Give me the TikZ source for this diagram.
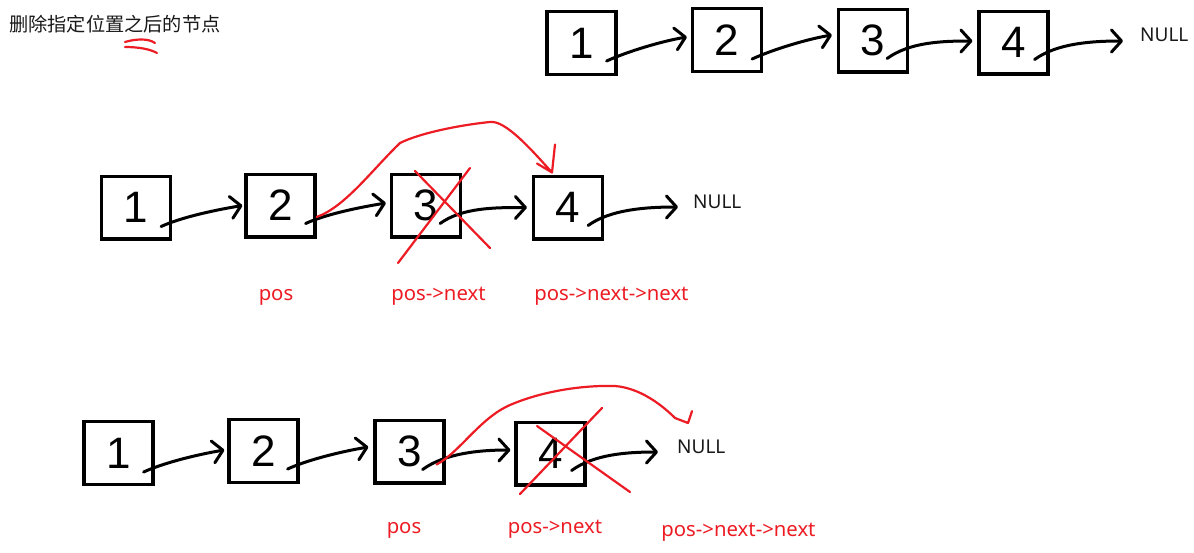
\documentclass[tikz,border=0pt]{standalone}
\usepackage{fontspec}
\newfontfamily\cjk{Noto Sans CJK SC}
\newfontfamily\lab{Noto Sans}
\newfontfamily\dig{Liberation Sans}
\usetikzlibrary{calc,arrows.meta}
\definecolor{mred}{RGB}{237,28,36}
\tikzset{
  nodebox/.style={draw, line width=3.2pt, minimum width=69pt, minimum height=62.8pt,
    inner sep=0pt, font=\dig\fontsize{44}{44}\selectfont},
  link/.style={line width=3pt, line cap=round,
    -{Straight Barb[length=10pt,width=22pt,line cap=round,line join=round]}},
  redline/.style={draw=mred, line width=2.2pt, line cap=round, line join=round},
  nulltxt/.style={inner sep=0pt, anchor=west, font=\lab\fontsize{19}{19}\selectfont, text=black!90},
  redlab/.style={inner sep=0pt, anchor=base, text=mred, font=\lab\fontsize{20.3}{20.3}\selectfont},
  wa/.style={to path={.. controls +(22,-10) and +(-24,4) .. (\tikztotarget)}},
  wb/.style={to path={.. controls +(22,-16) and +(-32,0) .. (\tikztotarget)}},
}
\begin{document}
\begin{tikzpicture}[x=1pt,y=-1pt]
\fill[white] (0,0) rectangle (1194,552);
\useasboundingbox (0,0) rectangle (1194,552);

% title
\node[anchor=base west, inner sep=0pt, font=\cjk\fontsize{19.2}{19.2}\selectfont, text=black!90]
  (title) at (9,31.5) {删除指定位置之后的节点};
\draw[redline] (125,42) .. controls (135,39) and (148,38) .. (155,43);
\draw[redline] (125,47) .. controls (138,47) and (150,49) .. (157,53);

% ---------- row 1 ----------
\node[nodebox] (A1) at (581.5,43) {1};
\node[nodebox] (A2) at (727,40) {2};
\node[nodebox] (A3) at (873,40.5) {3};
\node[nodebox] (A4) at (1013.5,42.5) {4};
\node[nulltxt] (N1) at (1140,35) {NULL};
\draw[link] ($(A1.south east)+(-11,-15)$) to[wa] ($(A2.west)+(-4,-3)$);
\draw[link] ($(A2.south east)+(-11,-14)$) to[wa] ($(A3.west)+(-5,-5.5)$);
\draw[link] ($(A3.south east)+(-22,-15)$) to[wb] ($(A4.west)+(-5,-1.5)$);
\draw[link] ($(A4.south east)+(-15,-16)$) to[wb] ($(N1.west)+(-17,6)$);

% ---------- row 2 ----------
\node[nodebox] (B1) at (136,207.5) {1};
\node[nodebox] (B2) at (280.5,205.5) {2};
\node[nodebox] (B3) at (426,205.5) {3};
\node[nodebox] (B4) at (568,207.5) {4};
\node[nulltxt] (N2) at (693,202) {NULL};
\draw[link] ($(B1.south east)+(-11,-14)$) to[wa] ($(B2.west)+(-2,0)$);
\draw[link] ($(B2.south east)+(-11,-15)$) to[wa] ($(B3.west)+(-4,-2.5)$);
\draw[link] ($(B3.south east)+(-22,-15)$) to[wb] ($(B4.west)+(-5,0)$);
\draw[link] ($(B4.south east)+(-16,-15)$) to[wb] ($(N2.west)+(-15,5)$);
% red bypass
\coordinate (r2s) at ($(B2.east)+(0,11.5)$);
\coordinate (r2t) at ($(B4.north)+(-16,-2)$);
\draw[redline] (r2s) .. controls (345,207) and (372,170) .. (400,143)
  .. controls (420,133) and (460,125) .. (490,122)
  .. controls (505,120) and (530,148) .. (r2t) -- ++(-15,-9)
  (r2t) -- ++(3,-28);
% red cross
\draw[redline] ($(B3.center)+(-28,57.5)$) -- ($(B3.center)+(44,-37.5)$);
\draw[redline] ($(B3.center)+(-11,-34.5)$) -- ($(B3.center)+(64,42.5)$);
% labels
\node[redlab] (L21) at (276,300) {pos};
\node[redlab] (L22) at (438.5,300) {pos->next};
\node[redlab] (L23) at (611.5,300) {pos->next->next};

% ---------- row 3 ----------
\node[nodebox] (C1) at (118.5,453) {1};
\node[nodebox] (C2) at (263.5,451) {2};
\node[nodebox] (C3) at (409.5,451.5) {3};
\node[nodebox] (C4) at (550.5,453.5) {4};
\node[nulltxt] (N3) at (677,446.5) {NULL};
\draw[link] ($(C1.south east)+(-11,-14)$) to[wa] ($(C2.west)+(-3,-1)$);
\draw[link] ($(C2.south east)+(-12,-15)$) to[wa] ($(C3.west)+(-5,-4.5)$);
\draw[link] ($(C3.south east)+(-23,-15)$) to[wb] ($(C4.west)+(-4,-3.5)$);
\draw[link] ($(C4.south east)+(-15,-16)$) to[wb] ($(N3.west)+(-19,5.5)$);
% red bypass
\coordinate (r3s) at ($(C3.south east)+(-9,-20)$);
\coordinate (r3t) at ($(N3.west)+(11,-23.5)$);
\draw[redline] (r3s) .. controls (460,452) and (480,418) .. (510,405)
  .. controls (540,392) and (580,385) .. (615,386)
  .. controls (640,388) and (662,405) .. (675,418) -- (r3t) -- ++(4,-12);
% red cross
\draw[redline] ($(C4.center)+(-30.5,40.5)$) -- ($(C4.center)+(51.5,-45.5)$);
\draw[redline] ($(C4.center)+(-13.5,-27.5)$) -- ($(C4.center)+(79.5,38.5)$);
% labels
\node[redlab] (L31) at (404,533) {pos};
\node[redlab] (L32) at (555,533) {pos->next};
\node[redlab] (L33) at (738.5,536) {pos->next->next};
\end{tikzpicture}
\end{document}
